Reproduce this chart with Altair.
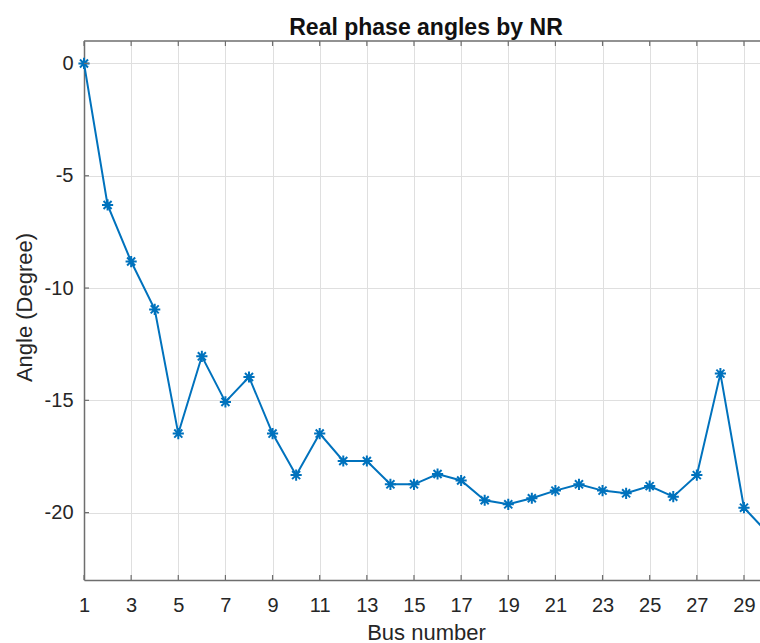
import altair as alt
import pandas as pd

bus = list(range(1, 31))
angle = [0.0, -6.30, -8.82, -10.95, -16.48, -13.04, -15.07, -13.96, -16.48, -18.33,
         -16.48, -17.70, -17.70, -18.74, -18.74, -18.28, -18.57, -19.45, -19.63, -19.36,
         -19.02, -18.74, -19.02, -19.14, -18.82, -19.29, -18.33, -13.81, -19.78, -20.90]
x_ticks = list(range(1, 30, 2))
y_ticks = [0, -5, -10, -15, -20]

W, H = 676, 539
df = pd.DataFrame({"bus": bus, "angle": angle})
xt = pd.DataFrame({"bus": x_ticks})
yt = pd.DataFrame({"angle": y_ticks})

FONT = "Liberation Sans"
TXT = "#262626"
GRID = "#dfdfdf"
DOM = "#6e6e6e"

xscale = alt.Scale(domain=[1, 29.68], nice=False, zero=False)
yscale = alt.Scale(domain=[-23, 1], nice=False, zero=False)

xaxis = alt.Axis(values=x_ticks, grid=True, gridColor=GRID, gridWidth=1, ticks=False, tickSize=0,
                 domainColor=DOM, domainWidth=1.5, labelFontSize=20, labelColor=TXT, labelFont=FONT,
                 labelPadding=15, title="Bus number", titleFontSize=22, titleFontWeight="normal",
                 titleColor=TXT, titleFont=FONT, titleX=342, titleY=59, titleBaseline="alphabetic",
                 titleAlign="center", labelFlush=False, labelOverlap=False,
                 labelExpr="'' + datum.value")
yaxis = alt.Axis(values=y_ticks, grid=True, gridColor=GRID, gridWidth=1, ticks=False, tickSize=0,
                 domainColor=DOM, domainWidth=1.5, labelFontSize=20, labelColor=TXT, labelFont=FONT,
                 labelPadding=11, title="Angle (Degree)", titleFontSize=22, titleFontWeight="normal",
                 titleColor=TXT, titleFont=FONT, titleX=-53, titleY=266, titleBaseline="alphabetic",
                 titleAlign="center", titleAngle=270, labelFlush=False, labelOverlap=False,
                 labelExpr="'' + datum.value")

X = alt.X("bus:Q", scale=xscale, axis=xaxis)
Y = alt.Y("angle:Q", scale=yscale, axis=yaxis)

line = alt.Chart(df).mark_line(color="#0072BD", strokeWidth=2).encode(x=X, y=Y)

star = "M-1,0L1,0M0,-1L0,1M-0.72,-0.72L0.72,0.72M-0.72,0.72L0.72,-0.72"
pts = alt.Chart(df).mark_point(shape=star, filled=False, color="#0072BD", strokeWidth=2,
                               size=125, opacity=1).encode(x=X, y=Y)

xt_bottom = alt.Chart(xt).mark_rule(color=DOM, strokeWidth=1.2).encode(
    x=X, y=alt.value(H), y2=alt.value(H - 5))
xt_top = alt.Chart(xt).mark_rule(color=DOM, strokeWidth=1.2).encode(
    x=X, y=alt.value(0), y2=alt.value(5))
yt_left = alt.Chart(yt).mark_rule(color=DOM, strokeWidth=1.2).encode(
    y=Y, x=alt.value(0), x2=alt.value(5))
top_border = alt.Chart(pd.DataFrame({"k": [0]})).mark_rule(color=DOM, strokeWidth=1.5).encode(
    x=alt.value(0), x2=alt.value(W), y=alt.value(0))

chart = alt.layer(line, pts, xt_bottom, xt_top, yt_left, top_border).properties(
    width=W, height=H,
    title=alt.TitleParams("Real phase angles by NR", fontSize=23, fontWeight="bold",
                          font=FONT, color="#111111", anchor="middle", offset=9,
                          baseline="alphabetic", dx=4, dy=27),
    autosize=alt.AutoSizeParams(type="none"),
    padding={"left": 84, "top": 41, "right": 0, "bottom": 63},
    background="white",
).configure_view(stroke=None)

chart.save("out.html", embed_options={"renderer": "svg", "actions": False})
